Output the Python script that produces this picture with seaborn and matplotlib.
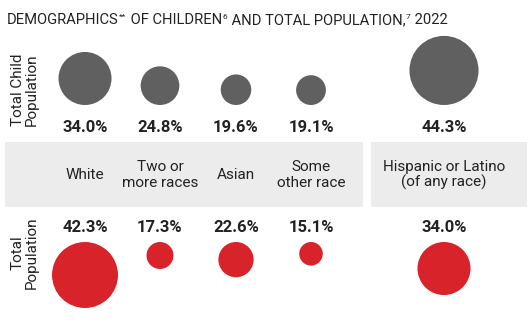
import matplotlib
matplotlib.use("Agg")
import matplotlib.pyplot as plt
import seaborn as sns
import pandas as pd
import numpy as np
from matplotlib.patches import Rectangle

categories = ["White", "Two or\nmore races", "Asian", "Some\nother race", "Hispanic or Latino\n(of any race)"]
child_pct = [34.0, 24.8, 19.6, 19.1, 44.3]
total_pct = [42.3, 17.3, 22.6, 15.1, 34.0]
x_pos = [85, 160, 236, 311, 444]

GRAY = "#606060"
RED = "#d9232a"
BAND = "#ececec"
TXT = "#222222"
FONT = "Roboto"

sns.set_theme(style="white")
plt.rcParams["font.family"] = [FONT, "DejaVu Sans"]

W, H = 529, 327
fig = plt.figure(figsize=(W / 100, H / 100), dpi=100)
ax = fig.add_axes([0, 0, 1, 1])

PX_PER_PCT = 1.56  # diameter in px per percentage point
pt = 72 / 100

df = pd.DataFrame({"cat": categories, "x": x_pos, "child": child_pct, "total": total_pct})
df["d_child"] = df["child"] * PX_PER_PCT
df["d_total"] = df["total"] * PX_PER_PCT
df["y_child"] = 105 - df["d_child"] / 2
df["y_total"] = 242 + df["d_total"] / 2

sns.scatterplot(data=df, x="x", y="y_child", s=(df["d_child"] * pt) ** 2,
                color=GRAY, linewidth=0, ax=ax, legend=False)
sns.scatterplot(data=df, x="x", y="y_total", s=(df["d_total"] * pt) ** 2,
                color=RED, linewidth=0, ax=ax, legend=False)
ax.set_xlim(0, W)
ax.set_ylim(H, 0)
ax.axis("off")

ax.add_patch(Rectangle((5, 142), 358, 65, color=BAND, zorder=0, lw=0))
ax.add_patch(Rectangle((371, 142), 156, 65, color=BAND, zorder=0, lw=0))

for _, r in df.iterrows():
    ax.text(r["x"], 127, f"{r['child']:.1f}%", ha="center", va="center",
            fontsize=12, fontweight="bold", color=TXT)
    ax.text(r["x"], 227, f"{r['total']:.1f}%", ha="center", va="center",
            fontsize=12, fontweight="bold", color=TXT)
    ax.text(r["x"], 175, r["cat"], ha="center", va="center",
            fontsize=11, color=TXT, linespacing=1.1)

ax.text(25, 90, "Total Child\nPopulation", rotation=90, ha="center", va="center",
        fontsize=11, color=TXT, linespacing=1.0)
ax.text(25, 253, "Total\nPopulation", rotation=90, ha="center", va="center",
        fontsize=11, color=TXT, linespacing=1.0)

# title built from pieces with superscripts
title_parts = [("DEMOGRAPHICS", False), ("**", True), (" OF CHILDREN", False), ("6", True),
               (" AND TOTAL POPULATION,", False), ("7", True), (" 2022", False)]
fig.canvas.draw()
renderer = fig.canvas.get_renderer()
x = 7.0
base_y = 24
for txt, sup in title_parts:
    t = ax.text(x, base_y - (5 if sup else 0), txt, ha="left", va="baseline",
                fontsize=6 if sup else 10.6, color=TXT)
    bb = t.get_window_extent(renderer=renderer)
    x += bb.width
    if sup:
        x += 1

fig.savefig("out.png", dpi=100)
